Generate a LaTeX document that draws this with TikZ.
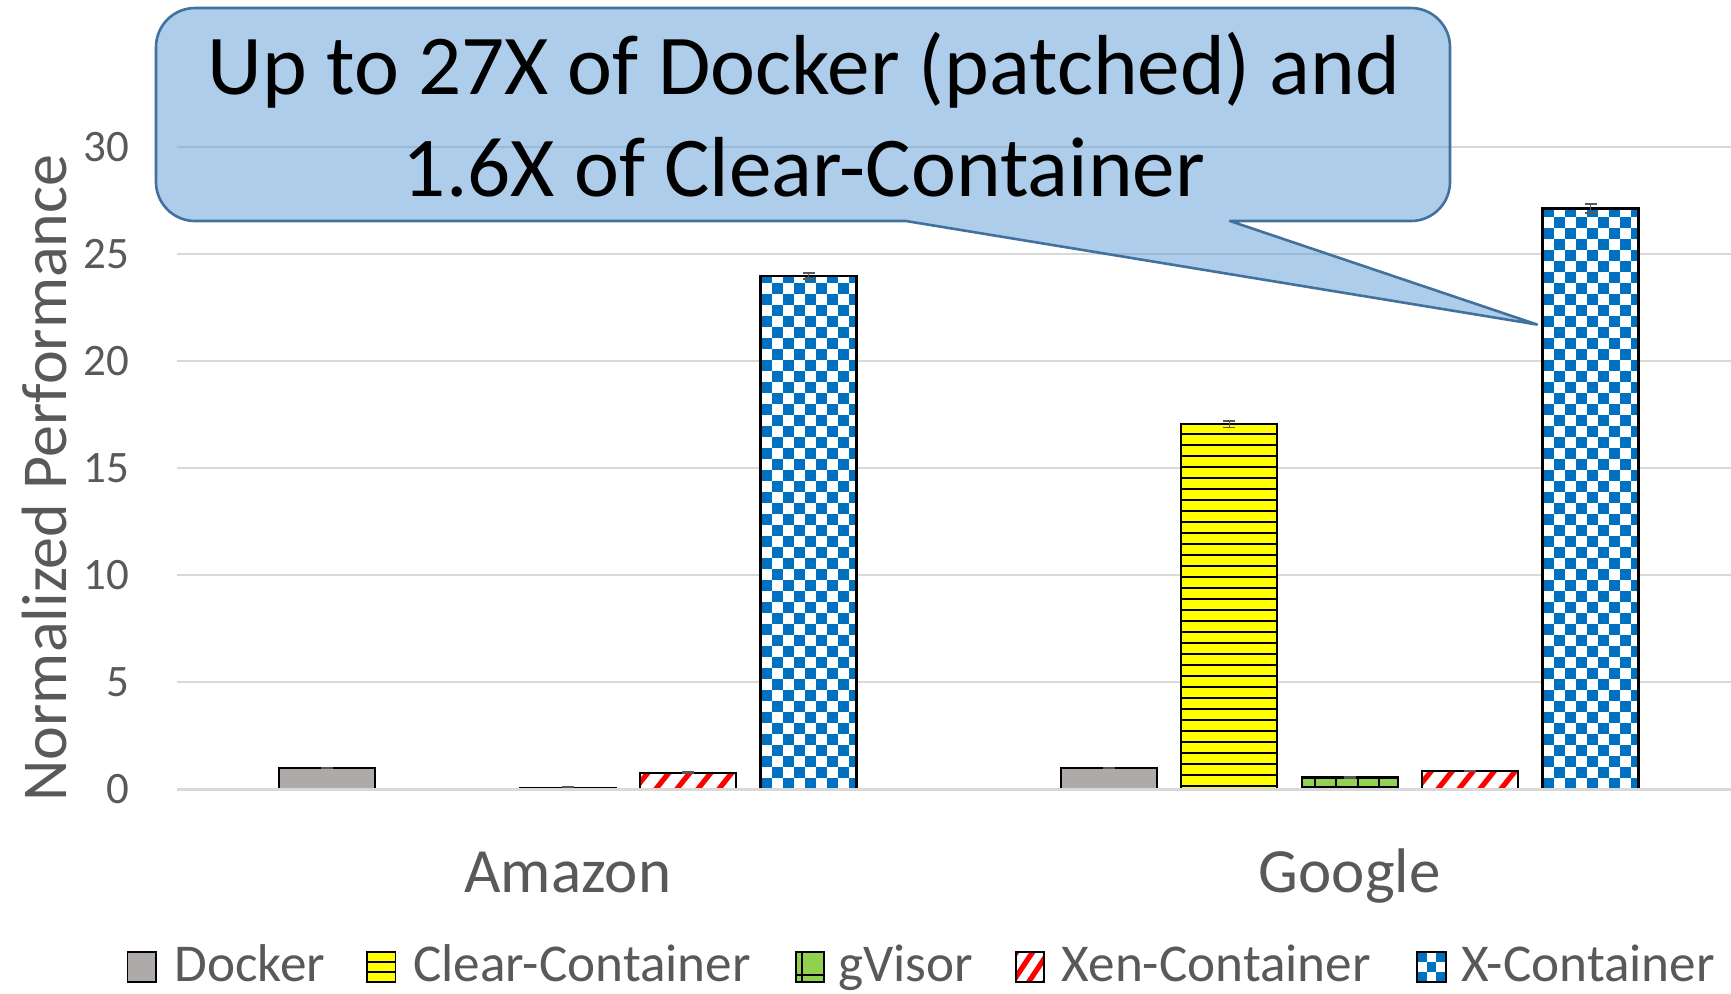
\documentclass[tikz,border=0pt]{standalone}
\usepackage{fontspec}
\setmainfont{Carlito}
\definecolor{dockgray}{HTML}{AEAAAA}
\definecolor{cyellow}{HTML}{FFFF00}
\definecolor{gvgreen}{HTML}{92D050}
\definecolor{xblue}{HTML}{0070C0}
\definecolor{txtgray}{HTML}{595959}
\definecolor{gridc}{HTML}{D9D9D9}
\definecolor{callfill}{HTML}{5B9BD5}
\definecolor{callline}{HTML}{41719C}

% bar macros: #1 = centre x (px), #2 = value
\newcommand\plainbar[2]{%
  \filldraw[fill=dockgray,barline] ({#1-48},789.4) rectangle ({#1+48},{789.4-21.42*#2});}
\newcommand\clearbar[2]{%
  \begin{scope}
    \clip ({#1-48},789.4) rectangle ({#1+48},{789.4-21.42*#2});
    \fill[cyellow] ({#1-48},789.4) rectangle ({#1+48},{789.4-21.42*#2});
    \foreach \k in {0,...,40} \draw[line width=1pt] ({#1-48},{786-11*\k}) -- ++(96,0);
  \end{scope}
  \draw[barline] ({#1-48},789.4) rectangle ({#1+48},{789.4-21.42*#2});}
\newcommand\gvbar[2]{%
  \begin{scope}
    \clip ({#1-48},789.4) rectangle ({#1+48},{789.4-21.42*#2});
    \fill[gvgreen] ({#1-48},789.4) rectangle ({#1+48},{789.4-21.42*#2});
    \foreach \k in {0,...,3} \draw[line width=0.9pt] ({#1-48},{786.7-11*\k}) -- ++(96,0);
    \foreach \k in {0,...,4} \draw[line width=0.9pt] ({#1-35+21.5*\k},789.4) -- ++(0,-40);
  \end{scope}
  \draw[barline] ({#1-48},789.4) rectangle ({#1+48},{789.4-21.42*#2});}
\newcommand\xenbar[2]{%
  \begin{scope}
    \clip ({#1-48},789.4) rectangle ({#1+48},{789.4-21.42*#2});
    \fill[white] ({#1-48},789.4) rectangle ({#1+48},{789.4-21.42*#2});
    \foreach \k in {-1,...,5} \draw[red,line width=2.6pt] ({#1-62+21*\k},800) -- ++(24,-30);
  \end{scope}
  \draw[barline] ({#1-48},789.4) rectangle ({#1+48},{789.4-21.42*#2});}
\newcommand\xcbar[2]{%
  \begin{scope}
    \clip ({#1-48},789.4) rectangle ({#1+48},{789.4-21.42*#2});
    \fill[white] ({#1-48},789.4) rectangle ({#1+48},{789.4-21.42*#2});
    \foreach \j in {0,...,53}{
      \foreach \i in {0,2,...,8}{
        \fill[xblue] ({#1-48+(\i+mod(\j,2))*11},{789.4-\j*11}) rectangle ++(11,-11);
      }
    }
  \end{scope}
  \draw[barline] ({#1-48},789.4) rectangle ({#1+48},{789.4-21.42*#2});}
% error bar: #1 x, #2 value, #3 error
\newcommand\errb[3]{%
  \draw[errbar] (#1,{789.4-21.42*(#2+#3)}) -- (#1,{789.4-21.42*(#2-#3)});
  \draw[errbar] ({#1-6},{789.4-21.42*(#2+#3)}) -- ++(12,0);
  \draw[errbar] ({#1-6},{789.4-21.42*(#2-#3)}) -- ++(12,0);}

\begin{document}
\begin{tikzpicture}[x=0.5pt,y=-0.5pt,
  barline/.style={draw=black,line width=1.1pt},
  gridln/.style={draw=gridc,line width=1pt},
  errbar/.style={draw=txtgray,line width=0.8pt},
  ticklab/.style={font=\fontsize{22.5}{27}\selectfont,text=txtgray,inner sep=0pt,anchor=east},
  catlab/.style={font=\fontsize{31.5}{38}\selectfont,text=txtgray,inner sep=0pt,anchor=base},
  leglab/.style={font=\fontsize{26.6}{31}\selectfont,text=txtgray,inner sep=0pt,anchor=base west},
  calltext/.style={font=\fontsize{42.6}{50}\selectfont,text=black,inner sep=0pt,anchor=base},
  swatch/.style={draw=black,line width=0.7pt}]
\useasboundingbox (0,0) rectangle (1731,993);

% gridlines
\foreach \v in {5,10,...,30}
  \draw[gridln] (176.6,{789.4-21.42*\v}) -- (1731,{789.4-21.42*\v});

% tick labels
\foreach \v in {0,5,...,30}
  \node[ticklab] (tick\v) at (130,{789.4-21.42*\v}) {\v};

% axis title
\node[font=\fontsize{32}{38}\selectfont,text=txtgray,rotate=90,anchor=base,inner sep=0pt]
  (ytitle) at (66,478) {Normalized Performance};

% Amazon bars
\plainbar{326.9}{1.0}
\gvbar{567.7}{0.08}
\xenbar{688.1}{0.78}
\xcbar{808.5}{23.97}
% Google bars
\plainbar{1108.9}{1.0}
\clearbar{1229.3}{17.05}
\gvbar{1349.7}{0.56}
\xenbar{1470.1}{0.86}
\xcbar{1590.5}{27.12}

% error bars
\errb{326.9}{1.0}{0.02}
\errb{567.7}{0.08}{0.02}
\errb{688.1}{0.78}{0.02}
\errb{808.5}{23.97}{0.14}
\errb{1108.9}{1.0}{0.02}
\errb{1229.3}{17.05}{0.15}
\errb{1349.7}{0.56}{0.02}
\errb{1470.1}{0.86}{0.02}
\errb{1590.5}{27.12}{0.21}

% axis line
\draw[draw=gridc,line width=1.4pt] (176.6,789.4) -- (1731,789.4);

% category labels
\node[catlab] (amazon) at (567.7,892) {Amazon};
\node[catlab] (google) at (1349.7,892) {Google};

% legend
\filldraw[fill=dockgray,swatch] (127.5,952) rectangle (156,982);
\node[leglab] (lg1) at (174,981) {Docker};

\fill[cyellow] (367,952) rectangle (395.5,982);
\draw[line width=1pt] (367,962) -- (395.5,962) (367,972) -- (395.5,972);
\draw[swatch] (367,952) rectangle (395.5,982);
\node[leglab] (lg2) at (413,981) {Clear-Container};

\fill[gvgreen] (796,952) rectangle (824,982);
\draw[line width=0.9pt] (802,952) -- (802,982) (796,975) -- (824,975);
\draw[swatch] (796,952) rectangle (824,982);
\node[leglab] (lg3) at (838,981) {gVisor};

\begin{scope}
  \clip (1016,952) rectangle (1044,982);
  \fill[white] (1016,952) rectangle (1044,982);
  \foreach \k in {-1,0,1,2} \draw[red,line width=2.6pt] ({1008+16*\k},989) -- ++(28,-42);
\end{scope}
\draw[swatch] (1016,952) rectangle (1044,982);
\node[leglab] (lg4) at (1061.5,981) {Xen-Container};

\begin{scope}
  \clip (1417,952) rectangle (1446,982);
  \fill[white] (1417,952) rectangle (1446,982);
  \foreach \i/\j in {0/0,2/0,1/1,0/2,2/2}
    \fill[xblue] ({1417+\i*9.7},{952+\j*10}) rectangle ++(9.7,10);
\end{scope}
\draw[swatch] (1417,952) rectangle (1446,982);
\node[leglab] (lg5) at (1461,981) {X-Container};

% callout
\filldraw[fill=callfill,fill opacity=0.5,draw=callline,line width=1.3pt,line join=round]
  (906,221) -- (1537,324.5) -- (1230,221) -- (1411,221)
  .. controls (1432.5,221) and (1450,203.5) .. (1450,182) -- (1450,47)
  .. controls (1450,25.5) and (1432.5,8) .. (1411,8) -- (195,8)
  .. controls (173.5,8) and (156,25.5) .. (156,47) -- (156,182)
  .. controls (156,203.5) and (173.5,221) .. (195,221) -- cycle;
\node[calltext] (call1) at (804,94) {Up to 27X of Docker (patched) and};
\node[calltext] (call2) at (804,196.5) {1.6X of Clear-Container};
\end{tikzpicture}
\end{document}
